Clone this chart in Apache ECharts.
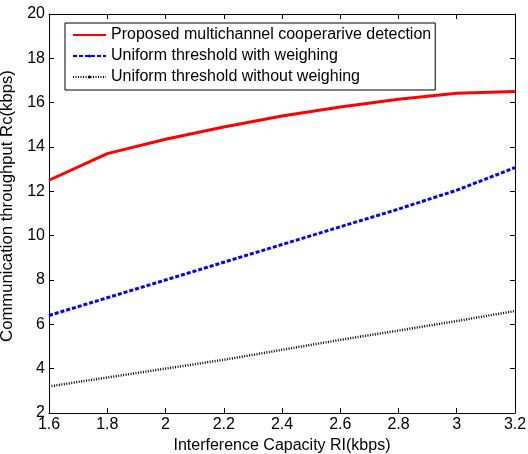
<!DOCTYPE html>
<html>
<head>
<meta charset="utf-8">
<script src="https://cdn.jsdelivr.net/npm/echarts@6/dist/echarts.min.js"></script>
<style>
  html, body { margin: 0; padding: 0; background: #fff; }
  #chart { width: 528px; height: 454px; }
</style>
</head>
<body>
<div id="chart"></div>
<script>
// Interference capacity (kbps) on the x axis
const capacity = [1.6, 1.8, 2.0, 2.2, 2.4, 2.6, 2.8, 3.0, 3.2];

// Communication throughput (kbps) for each scheme
const proposed = [12.5, 13.7, 14.35, 14.9, 15.4, 15.8, 16.15, 16.42, 16.5];
const withWeighing = [6.4, 7.2, 8.0, 8.8, 9.6, 10.4, 11.2, 12.05, 13.07];
const withoutWeighing = [3.2, 3.6, 4.0, 4.4, 4.85, 5.3, 5.72, 6.15, 6.6];

const seriesNames = [
  'Proposed multichannel cooperarive detection',
  'Uniform threshold with weighing',
  'Uniform threshold without weighing'
];

const xTicks = [1.6, 1.8, 2.0, 2.2, 2.4, 2.6, 2.8, 3.0, 3.2];
const yTicks = [2, 4, 6, 8, 10, 12, 14, 16, 18, 20];

const FONT = 'Liberation Sans, Arial, sans-serif';
const FS = 16;
const pairs = arr => capacity.map((x, i) => [x, arr[i]]);

const chart = echarts.init(document.getElementById('chart'), null, { renderer: 'canvas' });

const axisBase = {
  axisLine: { show: true, lineStyle: { color: '#000', width: 1 } },
  axisTick: { show: true, inside: true, length: 5, lineStyle: { color: '#000' } },
  splitLine: { show: false }
};

chart.setOption({
  animation: false,
  backgroundColor: '#fff',
  grid: { left: 49, right: 13, top: 14, bottom: 41, containLabel: false, outerBoundsMode: 'none' },
  legend: {
    orient: 'vertical',
    left: 65,
    top: 23,
    itemWidth: 33,
    itemHeight: 4,
    itemGap: 5,
    padding: [4, 4, 5, 7],
    borderColor: '#000',
    borderWidth: 1,
    backgroundColor: '#fff',
    textStyle: { fontFamily: FONT, fontSize: FS, color: '#000' },
    data: [
      { name: seriesNames[0], itemStyle: { opacity: 0 } },
      seriesNames[1],
      seriesNames[2]
    ]
  },
  xAxis: [
    Object.assign({}, axisBase, {
      type: 'value',
      min: 1.6, max: 3.2, interval: 0.2,
      position: 'bottom',
      name: 'Interference Capacity RI(kbps)',
      nameLocation: 'middle',
      nameGap: 21,
      nameTextStyle: { fontFamily: FONT, fontSize: FS, color: '#000', verticalAlign: 'top' },
      axisLabel: {
        fontFamily: FONT, fontSize: FS, color: '#000', margin: 4,
        formatter: v => {
          const t = xTicks.find(k => Math.abs(k - v) < 1e-6);
          return t === undefined ? '' : String(t);
        }
      }
    }),
    Object.assign({}, axisBase, {
      type: 'value',
      min: 1.6, max: 3.2, interval: 0.2,
      position: 'top',
      axisLabel: { show: false }
    })
  ],
  yAxis: [
    Object.assign({}, axisBase, {
      type: 'value',
      min: 2, max: 20, interval: 2,
      position: 'left',
      name: 'Communication throughput Rc(kbps)',
      nameLocation: 'middle',
      nameGap: 32,
      nameTextStyle: { fontFamily: FONT, fontSize: 16.7, color: '#000', padding: [0, 0, 0, 15] },
      axisLabel: {
        fontFamily: FONT, fontSize: FS, color: '#000', margin: 4,
        formatter: v => (yTicks.includes(v) ? String(v) : '')
      }
    }),
    Object.assign({}, axisBase, {
      type: 'value',
      min: 2, max: 20, interval: 2,
      position: 'right',
      axisLabel: { show: false }
    })
  ],
  series: [
    {
      name: seriesNames[0],
      type: 'line',
      data: pairs(proposed),
      symbol: 'none',
      lineStyle: { color: '#ff0000', width: 3 },
      itemStyle: { color: '#ff0000' }
    },
    {
      name: seriesNames[1],
      type: 'line',
      data: pairs(withWeighing),
      symbol: 'circle',
      symbolSize: 3,
      showSymbol: false,
      lineStyle: { color: '#0000ff', width: 3, type: [4, 2] },
      itemStyle: { color: '#0000ff' }
    },
    {
      name: seriesNames[2],
      type: 'line',
      data: pairs(withoutWeighing),
      symbol: 'circle',
      symbolSize: 4,
      showSymbol: false,
      lineStyle: { color: '#000', width: 2.5, type: [1, 1.5] },
      itemStyle: { color: '#000' }
    }
  ]
});
</script>
</body>
</html>
